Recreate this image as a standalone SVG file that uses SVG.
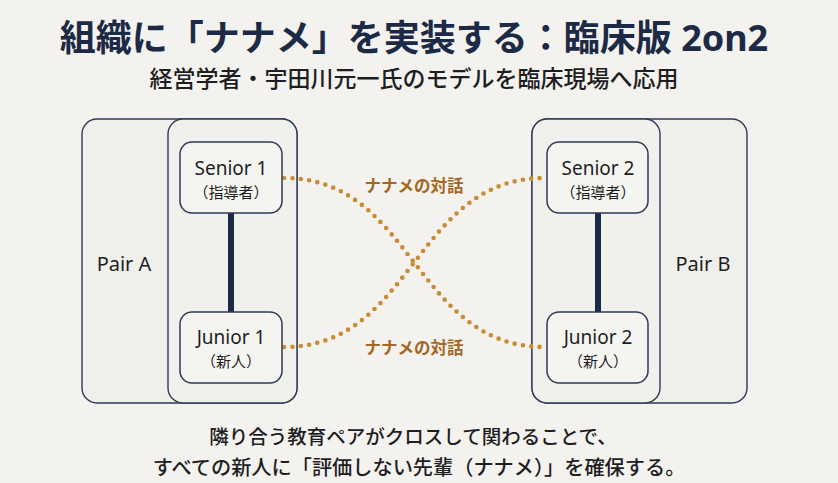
<svg xmlns="http://www.w3.org/2000/svg" width="838" height="483" viewBox="0 0 838 483">
<style>
.bg{fill:#f3f2ee}
.pair{fill:#efefec;stroke:#2e3b55;stroke-width:1.4}
.inner{fill:#f0f0ed;stroke:#2e3b55;stroke-width:1.4}
.node{fill:#f4f4f1;stroke:#2e3b55;stroke-width:1.5}
.tie{stroke:#1c2a45;stroke-width:6}
.dot{fill:none;stroke:#c98b36;stroke-width:4.6;stroke-linecap:round;stroke-dasharray:0 8.4}
.t{font-family:"Noto Sans","Noto Sans CJK JP",sans-serif;text-anchor:middle;dominant-baseline:central;fill:#1e1e22}
.title{font-size:36px;font-weight:700;fill:#1c2a45}
.sub{font-size:23px;font-weight:500}
.nm{font-size:19px}
.role{font-size:15px}
.pl{font-size:20px}
.lab{font-size:16.5px;font-weight:700;fill:#a3671f}
.foot{font-size:19.5px;font-weight:500}
</style>
<rect class="bg" x="0" y="0" width="838" height="483"/>
<text class="t title" x="414" y="37">組織に「ナナメ」を実装する：臨床版 2on2</text>
<text class="t sub" x="414" y="78">経営学者・宇田川元一氏のモデルを臨床現場へ応用</text>

<g id="pairA">
<rect class="pair" x="82" y="119" width="215" height="284" rx="15"/>
<rect class="inner" x="168" y="119" width="129" height="284" rx="15"/>
<text class="t pl" x="124" y="263">Pair A</text>
</g>
<g id="pairB">
<rect class="pair" x="532" y="119" width="215" height="284" rx="15"/>
<rect class="inner" x="532" y="119" width="128" height="284" rx="15"/>
<text class="t pl" x="703" y="263">Pair B</text>
</g>

<g id="connectors">
<line class="tie" x1="231" y1="213" x2="231" y2="312"/>
<line class="tie" x1="598" y1="213" x2="598" y2="312"/>
<path class="dot" d="M284,178 C414,178 414,347 545,347"/>
<path class="dot" d="M284,347 C414,347 414,178 545,178"/>
<text class="t lab" x="414" y="185">ナナメの対話</text>
<text class="t lab" x="414" y="347">ナナメの対話</text>
</g>

<g id="senior1">
<rect class="node" x="180" y="142" width="102" height="71" rx="12"/>
<text class="t nm" x="231" y="168">Senior 1</text>
<text class="t role" x="231" y="192">（指導者）</text>
</g>
<g id="junior1">
<rect class="node" x="180" y="312" width="102" height="71" rx="12"/>
<text class="t nm" x="231" y="337">Junior 1</text>
<text class="t role" x="231" y="361">（新人）</text>
</g>
<g id="senior2">
<rect class="node" x="547" y="142" width="101" height="71" rx="12"/>
<text class="t nm" x="598" y="168">Senior 2</text>
<text class="t role" x="598" y="192">（指導者）</text>
</g>
<g id="junior2">
<rect class="node" x="547" y="312" width="101" height="71" rx="12"/>
<text class="t nm" x="598" y="337">Junior 2</text>
<text class="t role" x="598" y="361">（新人）</text>
</g>

<text class="t foot" x="413" y="436">隣り合う教育ペアがクロスして関わることで、</text>
<text class="t foot" x="419" y="467" style="font-size:20.2px">すべての新人に「評価しない先輩（ナナメ）」を確保する。</text>
</svg>
